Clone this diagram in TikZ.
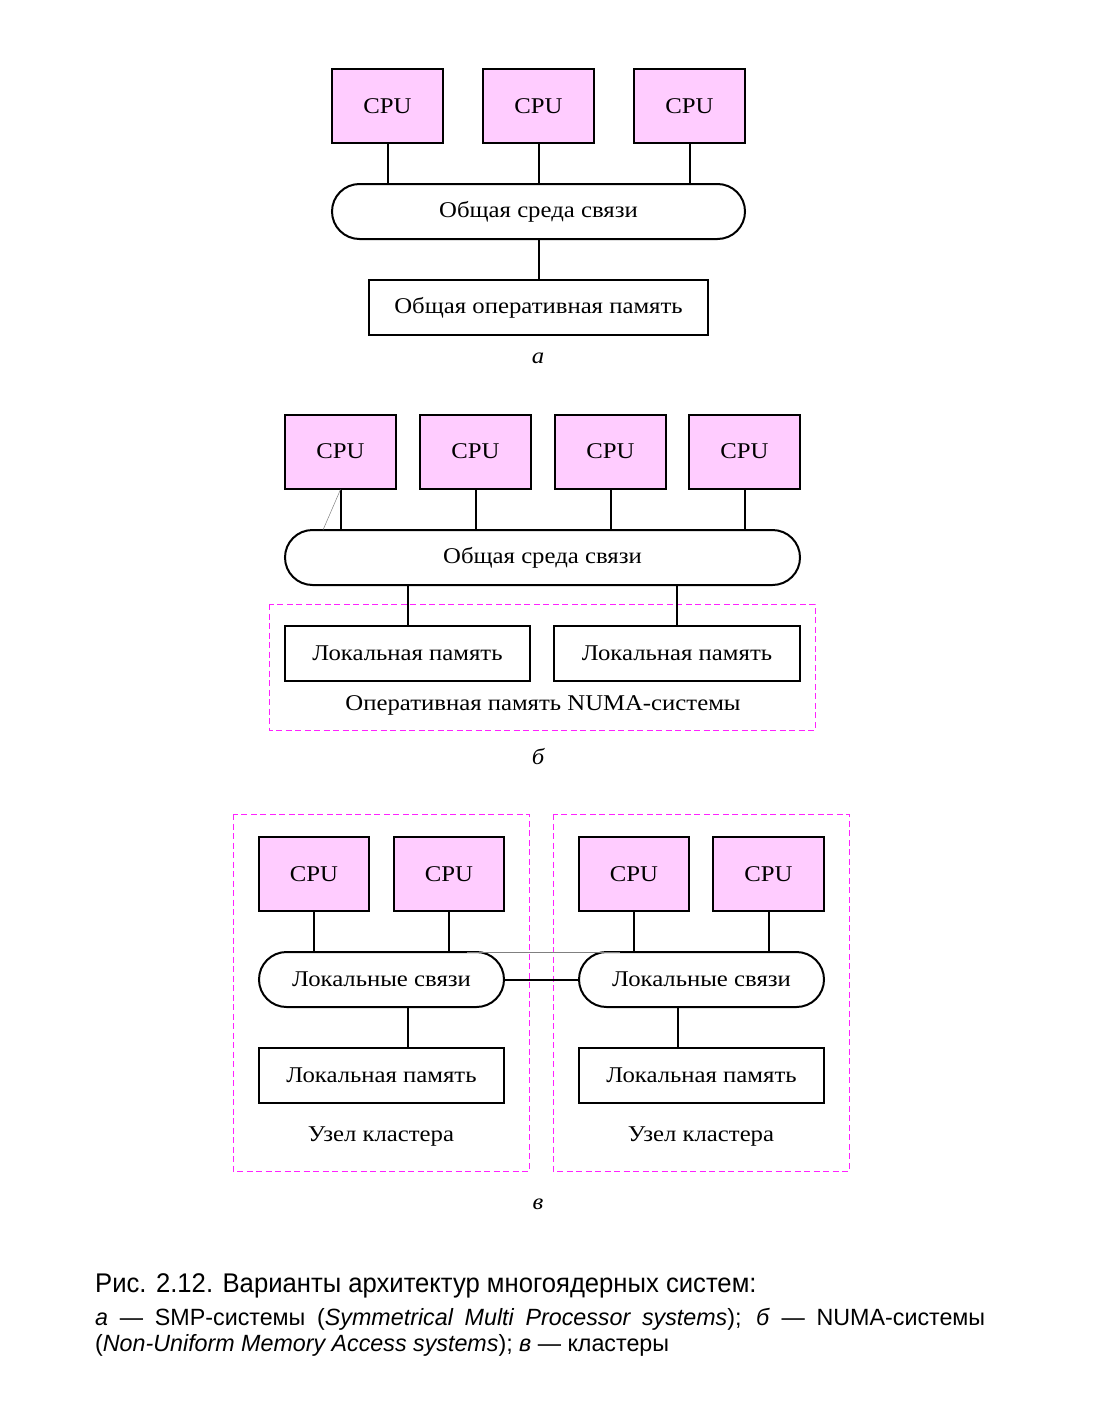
\documentclass[tikz,border=0pt]{standalone}
\usepackage{fontspec}
\setmainfont[FakeStretch=1.1]{Liberation Serif}
\newfontfamily\capfont[FakeStretch=0.95]{Liberation Sans}
\newfontfamily\capfontb[FakeStretch=0.99]{Liberation Sans}
\usetikzlibrary{shapes.misc}
\definecolor{cpupink}{HTML}{FFCCFF}
\definecolor{numamag}{HTML}{FF22FF}
\tikzset{
  x=1pt,y=-1pt,
  txt/.style={font=\fontsize{22.5}{26}\selectfont},
  cpubox/.style={draw,line width=2pt,fill=cpupink,minimum width=111pt,minimum height=74pt,inner sep=0pt,txt},
  membox/.style={draw,line width=2pt,fill=white,minimum height=55pt,inner sep=0pt,txt},
  busbox/.style={draw,line width=2pt,fill=white,rounded rectangle,minimum height=55pt,inner sep=0pt,txt},
  wire/.style={line width=2pt},
  thinwire/.style={line width=0.5pt,gray},
  groupbox/.style={draw=numamag,line width=1pt,dash pattern=on 6pt off 3.5pt},
  plain/.style={txt,inner sep=0pt},
  sublabel/.style={font=\fontsize{22.5}{26}\selectfont\itshape,inner sep=0pt},
  captext/.style={anchor=base west,inner sep=0pt,font=\capfontb\fontsize{23.5}{27}\selectfont},
}
\begin{document}
\begin{tikzpicture}
\useasboundingbox (0,0) rectangle (1102,1421);
% ---------- a ----------
\node[cpubox] (a1) at (387.5,106) {CPU};
\node[cpubox] (a2) at (538.5,106) {CPU};
\node[cpubox] (a3) at (689.5,106) {CPU};
\node[busbox,minimum width=413pt] (abus) at (538.5,211.5) {Общая среда связи};
\node[membox,minimum width=339pt] (amem) at (538.5,307.5) {Общая оперативная память};
\draw[wire] (a1.south) -- (a1.south |- abus.north);
\draw[wire] (a2.south) -- (a2.south |- abus.north);
\draw[wire] (a3.south) -- (a3.south |- abus.north);
\draw[wire] (abus.south) -- (amem.north);
\node[sublabel] (la) at (538,358) {а};
% ---------- б ----------
\node[cpubox] (b1) at (340.5,451.5) {CPU};
\node[cpubox] (b2) at (475.5,451.5) {CPU};
\node[cpubox] (b3) at (610.5,451.5) {CPU};
\node[cpubox] (b4) at (744.5,451.5) {CPU};
\node[busbox,minimum width=515pt] (bbus) at (542.5,557.5) {Общая среда связи};
\draw[groupbox] (269,604) rectangle (815,730);
\node[membox,minimum width=245pt] (bm1) at (407.5,653) {Локальная память};
\node[membox,minimum width=246pt] (bm2) at (677,653) {Локальная память};
\node[plain] (bnuma) at (543,705) {Оперативная память NUMA-системы};
\draw[wire] (b1.south) -- (b1.south |- bbus.north);
\draw[wire] (b2.south) -- (b2.south |- bbus.north);
\draw[wire] (b3.south) -- (b3.south |- bbus.north);
\draw[wire] (b4.south) -- (b4.south |- bbus.north);
\draw[wire] (bm1.north |- bbus.south) -- (bm1.north);
\draw[wire] (bm2.north |- bbus.south) -- (bm2.north);
\coordinate (bdiag) at (323,530);
\draw[thinwire] (b1.south) -- (bdiag);
\node[sublabel] (lb) at (538,757) {б};
% ---------- в ----------
\draw[groupbox] (233,814) rectangle (529,1171);
\draw[groupbox] (553,814) rectangle (849,1171);
\node[cpubox,minimum width=110pt] (c1) at (314,874) {CPU};
\node[cpubox,minimum width=110pt] (c2) at (449,874) {CPU};
\node[cpubox,minimum width=110pt] (c3) at (634,874) {CPU};
\node[cpubox,minimum width=111pt] (c4) at (768.5,874) {CPU};
\node[busbox,minimum width=245pt] (cbus1) at (381.5,979.5) {Локальные связи};
\node[busbox,minimum width=245pt] (cbus2) at (701.5,979.5) {Локальные связи};
\node[membox,minimum width=245pt] (cm1) at (381.5,1075.5) {Локальная память};
\node[membox,minimum width=245pt] (cm2) at (701.5,1075.5) {Локальная память};
\node[plain] (cn1) at (381,1137) {Узел кластера};
\node[plain] (cn2) at (701,1137) {Узел кластера};
\draw[wire] (c1.south) -- (c1.south |- cbus1.north);
\draw[wire] (c2.south) -- (c2.south |- cbus1.north);
\draw[wire] (c3.south) -- (c3.south |- cbus2.north);
\draw[wire] (c4.south) -- (c4.south |- cbus2.north);
\draw[wire] (408,1007) -- (408,1048);
\draw[wire] (678,1007) -- (678,1048);
\draw[wire] (cbus1.east) -- (cbus2.west);
\coordinate (cthinA) at (467,952);
\coordinate (cthinB) at (620,952);
\draw[thinwire] (cthinA) -- (cthinB);
\node[sublabel] (lc) at (538,1204) {в};
% ---------- caption ----------
\node[anchor=base west,inner sep=0pt,font=\capfont\fontsize{27}{30}\selectfont] (cap1) at (95,1292) {Рис. 2.12. Варианты архитектур многоядерных систем:};
\node[captext] (cap2) at (95,1325)
{\makebox[890pt][s]{\itshape а\/\upshape{} — SMP-системы (\itshape Symmetrical Multi Processor systems\/\upshape); \itshape б\/\upshape{} — NUMA-системы}};
\node[captext] (cap3) at (95,1351)
{(\itshape Non-Uniform Memory Access systems\/\upshape); \itshape в\/\upshape{} — кластеры};
\end{tikzpicture}
\end{document}
